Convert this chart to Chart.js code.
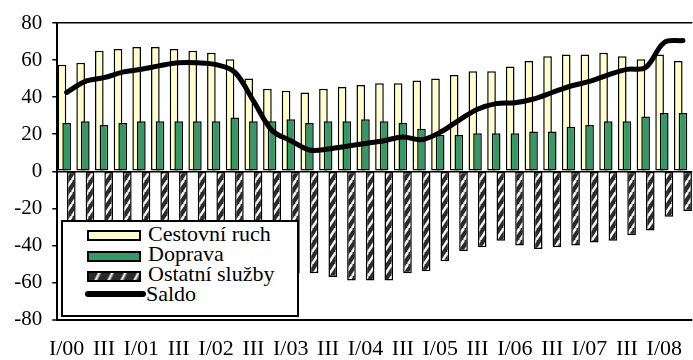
<!DOCTYPE html>
<html>
<head>
<meta charset="utf-8">
<script src="https://cdn.jsdelivr.net/npm/chart.js@4.4.1/dist/chart.umd.min.js"></script>
<style>
html,body{margin:0;padding:0;background:#fff;overflow:hidden;width:693px;height:360px;}
#wrap{position:relative;width:700px;height:360px;}
#c{position:absolute;left:0;top:0;}
#legend{position:absolute;left:61px;top:220px;width:238px;height:97px;box-sizing:border-box;border:2px solid #000;background:#fff;
  font-family:'Liberation Serif','Times New Roman',serif;font-size:22px;color:#000;}
#legend .sw{position:absolute;box-sizing:border-box;border:2px solid #000;}
#legend .tx{position:absolute;left:85px;line-height:22px;white-space:nowrap;}
</style>
</head>
<body>
<div id="wrap">
<canvas id="c" width="700" height="360"></canvas>
<div id="legend">
  <div class="sw" style="left:23.7px;top:8px;width:54px;height:11px;background:#FFFFCC;"></div>
  <div class="tx" style="top:0.6px;">Cestovní ruch</div>
  <div class="sw" style="left:23.7px;top:28.7px;width:54px;height:11px;background:#339966;"></div>
  <div class="tx" style="top:20.6px;">Doprava</div>
  <div class="sw" style="left:23.7px;top:49px;width:54px;height:11px;background:repeating-linear-gradient(117deg,#2a2a2a 0px,#2a2a2a 7px,#ffffff 9px,#2a2a2a 11.6px);"></div>
  <div class="tx" style="top:40.9px;">Ostatní služby</div>
  <div style="position:absolute;left:22px;top:68.7px;width:61px;height:6px;border-radius:3px;background:#000;"></div>
  <div class="tx" style="top:60.9px;left:83px;">Saldo</div>
</div>
</div>
<script>
// Quarters I/00 .. II/08
const quarters = [
  "I/00","II/00","III/00","IV/00","I/01","II/01","III/01","IV/01",
  "I/02","II/02","III/02","IV/02","I/03","II/03","III/03","IV/03",
  "I/04","II/04","III/04","IV/04","I/05","II/05","III/05","IV/05",
  "I/06","II/06","III/06","IV/06","I/07","II/07","III/07","IV/07",
  "I/08","II/08"
];
const tickLabels = [
  "I/00","","III","","I/01","","III","",
  "I/02","","III","","I/03","","III","",
  "I/04","","III","","I/05","","III","",
  "I/06","","III","","I/07","","III","",
  "I/08",""
];
const cestovniRuch = [
  57.5,58.5,65,66,67,67,66,65,
  64,60.5,50,44.5,43.5,42.5,44.5,45.5,
  46.5,47.5,47.5,49,50,52,54,54,
  56.5,59.5,62,63,63,64,62,60.5,
  63,59.5
];
const doprava = [
  26,27,25,26,27,27,27,27,
  27,29,27,27,28,26,27,27,
  28,27,26,23,19.5,19.5,20.5,20.5,
  20.5,21.5,21.5,24,25,27,27,29.5,
  31.5,31.5
];
const ostatniSluzby = [
  -41,-37,-39.5,-38.5,-39,-37,-34.5,-33.5,
  -33.5,-36,-39,-50,-55,-55,-57,-59,
  -59,-59,-55,-54,-48.5,-43,-41,-37.5,
  -40,-42,-41,-40,-38.5,-37.5,-34.5,-32,
  -24.5,-21.5
];
const saldo = [
  42.5,48.5,50.5,53.5,55,57,58.5,58.5,
  57.5,53.5,38,22,16.5,11.5,12,13.5,
  15,16.5,18.5,17,21,27.5,33.5,36.5,
  37,39,42.5,46,48.5,52,55,56,
  69.5,70.5
];

// hatch pattern
function makeHatch(){
  const W = 8, H = 12;
  const p = document.createElement('canvas');
  p.width = W; p.height = H;
  const g = p.getContext('2d');
  g.fillStyle = '#2a2a2a';
  g.fillRect(0,0,W,H);
  g.strokeStyle = '#f4f4f4';
  g.lineWidth = 2.6;
  [-W,0,W].forEach(dx=>{
    g.beginPath();
    g.moveTo(dx, H);
    g.lineTo(dx+W, 0);
    g.stroke();
  });
  return g.createPattern(p,'repeat');
}
const hatch = makeHatch();

const orderPlugin = {
  id:'drawOrder',
  beforeDatasetsDraw(chart){
    const ctx = chart.ctx;
    for (let i = 0; i < chart.data.datasets.length; i++){
      const meta = chart.getDatasetMeta(i);
      ctx.save();
      meta.controller.draw();
      ctx.restore();
    }
    return false;
  }
};

const FONT = "'Liberation Serif','Times New Roman',serif";
Chart.defaults.font.family = FONT;
const barCommon = {
  borderColor:'#000',
  borderWidth:1.5,
  borderSkipped:false,
  categoryPercentage:0.75,
  barPercentage:1.85
};

new Chart(document.getElementById('c'), {
  data:{
    labels: quarters,
    datasets:[
      Object.assign({type:'bar', label:'Cestovní ruch', data:cestovniRuch, backgroundColor:'#FFFFCC'}, barCommon),
      Object.assign({type:'bar', label:'Doprava', data:doprava, backgroundColor:'#339966'}, barCommon),
      Object.assign({type:'bar', label:'Ostatní služby', data:ostatniSluzby, backgroundColor:hatch}, barCommon),
      {type:'line', label:'Saldo', data:saldo, borderColor:'#000', borderWidth:5, tension:0.35,
       pointRadius:0, fill:false, borderCapStyle:'round', borderJoinStyle:'round'}
    ]
  },
  options:{
    responsive:false,
    animation:false,
    devicePixelRatio:1,
    layout:{padding:{top:23,right:3.5,left:0,bottom:0}},
    plugins:{legend:{display:false}, tooltip:{enabled:false}},
    scales:{
      x:{
        grid:{display:false, drawTicks:false},
        border:{display:false},
        ticks:{autoSkip:false, maxRotation:0, minRotation:0, padding:17, color:'#000',
               font:{family:FONT, size:22}, callback:(v,i)=>tickLabels[i]},
        afterFit:s=>{ s.height = 40.5; }
      },
      y:{
        min:-80, max:80,
        ticks:{stepSize:20, padding:10, color:'#000', font:{family:FONT, size:21}},
        grid:{
          color:c=>([80,0,-80].includes(c.tick && c.tick.value) ? '#000' : 'rgba(0,0,0,0)'),
          lineWidth:c=>(c.tick && c.tick.value===-80 ? 2 : 1.5),
          tickColor:'#000', tickLength:5, tickWidth:1.5, drawTicks:true
        },
        border:{display:true, color:'#000', width:2},
        afterFit:s=>{ s.width = 57.3; }
      }
    }
  },
  plugins:[orderPlugin]
});
</script>
</body>
</html>
